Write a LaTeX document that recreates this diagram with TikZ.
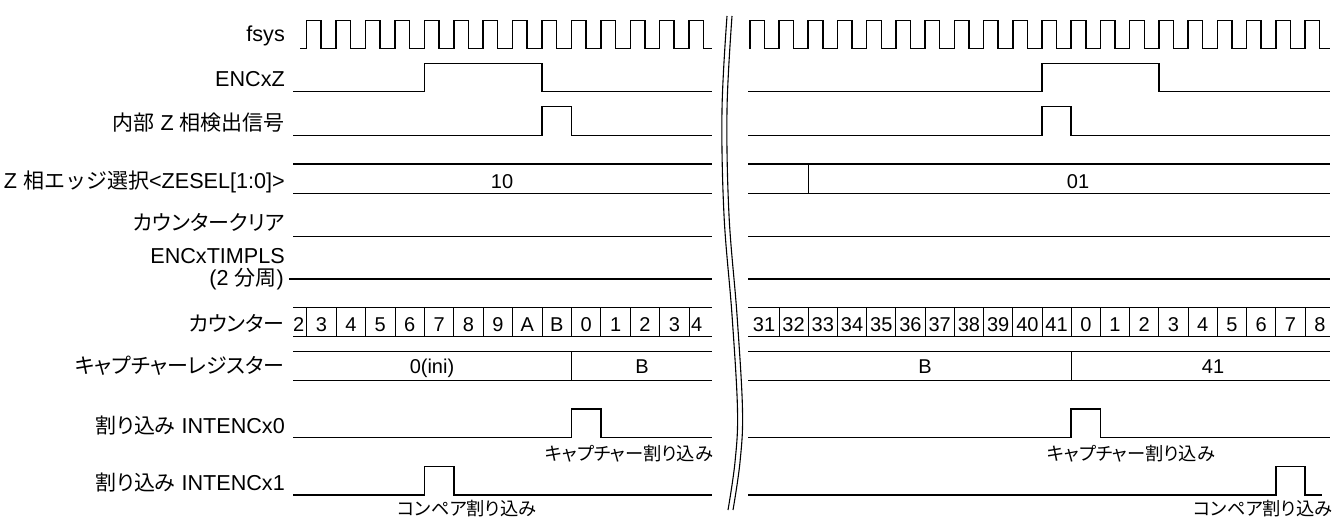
\documentclass[tikz,border=0pt]{standalone}
\usepackage{fontspec}
\setmainfont{Liberation Sans}
\newfontfamily\jp[RawFeature=+palt,Scale=0.972]{Noto Sans CJK JP}
\newfontfamily\jpw[Scale=0.972]{Noto Sans CJK JP}
\begin{document}
\begin{tikzpicture}[x=1pt,y=-1pt,
  sig/.style={line width=1.5pt},
  thinl/.style={line width=0.9pt},
  brk/.style={line width=1.1pt},
  lab/.style={anchor=base east, inner sep=0pt, font=\fontsize{21.6}{25}\selectfont},
  val/.style={anchor=base, inner sep=0pt, font=\fontsize{20}{24}\selectfont},
  ann/.style={anchor=base, inner sep=0pt, font=\fontsize{18.8}{22}\selectfont}]
\useasboundingbox (0,0) rectangle (1333,519);
% ---- fsys clock
\draw[sig] (300,48.7) \foreach \k in {0,...,13}{ -- ({306.7+29.42*\k},48.7) -- ({306.7+29.42*\k},20.5) -- ({321.2+29.42*\k},20.5) -- ({321.2+29.42*\k},48.7)} -- (711.7,48.7);
\draw[sig] (749.78,48.7) \foreach \k in {-1,...,18}{ -- ({779+29.22*\k},48.7) -- ({779+29.22*\k},20.5) -- ({793.6+29.22*\k},20.5) -- ({793.6+29.22*\k},48.7)} -- (1330,48.7);
% ---- ENCxZ
\draw[sig] (293,91.7) -- (424.38,91.7) -- (424.38,63.3) -- (542.06,63.3) -- (542.06,91.7) -- (711.7,91.7);
\draw[sig] (748.3,91.7) -- (1041.98,91.7) -- (1041.98,63.3) -- (1158.86,63.3) -- (1158.86,91.7) -- (1330,91.7);
% ---- internal Z
\draw[sig] (293,135.7) -- (542.06,135.7) -- (542.06,106.7) -- (571.48,106.7) -- (571.48,135.7) -- (711.7,135.7);
\draw[sig] (748.3,135.7) -- (1041.98,135.7) -- (1041.98,106.7) -- (1071.2,106.7) -- (1071.2,135.7) -- (1330,135.7);
% ---- ZESEL
\draw[sig] (293,164) -- (711.7,164) (293,193.3) -- (711.7,193.3);
\draw[sig] (748.3,164) -- (1330,164) (748.3,193.3) -- (1330,193.3);
\draw[thinl] (808.22,164) -- (808.22,193.3);
% ---- counter clear
\draw[sig] (293,236.7) -- (711.7,236.7) (748.3,236.7) -- (1330,236.7);
% ---- TIMPLS
\draw[sig] (289,279) -- (711.7,279) (748.3,279) -- (1330,279);
% ---- counter
\draw[sig] (293,307.7) -- (711.7,307.7) (293,336.7) -- (711.7,336.7);
\draw[sig] (748.3,307.7) -- (1330,307.7) (748.3,336.7) -- (1330,336.7);
\foreach \k in {0,...,13} \draw[thinl] ({306.7+29.42*\k},307.7) -- ({306.7+29.42*\k},336.7);
\foreach \k in {0,...,18} \draw[thinl] ({779+29.22*\k},307.7) -- ({779+29.22*\k},336.7);
% ---- capture register
\draw[sig] (293,351.7) -- (711.7,351.7) (293,380.7) -- (711.7,380.7);
\draw[sig] (748.3,351.7) -- (1330,351.7) (748.3,380.7) -- (1330,380.7);
\draw[thinl] (571.48,351.7) -- (571.48,380.7) (1071.2,351.7) -- (1071.2,380.7);
% ---- INTENCx0
\draw[sig] (293,437.7) -- (571.48,437.7) -- (571.48,409) -- (600.9,409) -- (600.9,437.7) -- (711.7,437.7);
\draw[sig] (748.3,437.7) -- (1071.2,437.7) -- (1071.2,409) -- (1100.42,409) -- (1100.42,437.7) -- (1330,437.7);
% ---- INTENCx1
\draw[sig] (293,495) -- (424.38,495) -- (424.38,466.7) -- (453.8,466.7) -- (453.8,495) -- (711.7,495);
\draw[sig] (748.3,495) -- (1275.74,495) -- (1275.74,466.7) -- (1304.96,466.7) -- (1304.96,495) -- (1321.7,495);
% ---- break mark
\draw[brk] plot[smooth, tension=0.6] coordinates {(727,16) (722,110) (724,215) (732,315) (737.5,410) (735,462) (728,510)};
\draw[brk] plot[smooth, tension=0.6] coordinates {(732,16) (727,110) (729,215) (737,315) (742.5,410) (740,462) (733,510)};
% ---- labels
\node[lab] (tfsys) at (285,42) {fsys};
\node[lab] (tencz) at (285,86) {ENCxZ};
\node[lab] (tintz) at (285,130) {{\jp 内部} Z {\jp 相検出信号}};
\node[lab] (tzsel) at (285,188) {Z {\jpw 相エッジ選択}<ZESEL[1:0]>};
\node[lab] (tclr) at (285,230) {\jp カウンタークリア};
\node[lab] (ttim) at (285,263.5) {ENCxTIMPLS};
\node[lab] (tdiv) at (284,285.5) {(2 {\jp 分周})};
\node[lab] (tcnt) at (285,331) {\jp カウンター};
\node[lab] (tcap) at (285,373.5) {\jp キャプチャーレジスター};
\node[lab] (tint0) at (285,433) {{\jp 割り込み} INTENCx0};
\node[lab] (tint1) at (285,490) {{\jp 割り込み} INTENCx1};
% ---- values
\node[val] (v10) at (502,188) {10};
\node[val] (v01) at (1078,188) {01};
\node[val] (vini) at (432,373.5) {0(ini)};
\node[val] (vB1) at (642,373.5) {B};
\node[val] (vB2) at (925,373.5) {B};
\node[val] (v41) at (1213,373.5) {41};
\node[val, anchor=base west] (cl0) at (293,331) {2};
\foreach \v [count=\i from 0] in {3,4,5,6,7,8,9,A,B,0,1,2,3}
  \node[val] (cl\i) at ({321.41+29.42*\i},331) {\v};
\node[val, anchor=base west] (cl14) at (691,331) {4};
\node[val] (cr0) at (764,331) {31};
\foreach \v [count=\i from 1] in {32,33,34,35,36,37,38,39,40,41,0,1,2,3,4,5,6,7}
  \node[val] (cr\i) at ({764.39+29.22*\i},331) {\v};
\node[val] (cr19) at (1320,331) {8};
% ---- annotations
\node[ann] (acap1) at (629,460) {\jp キャプチャー割り込み};
\node[ann] (acap2) at (1131,460) {\jp キャプチャー割り込み};
\node[ann] (acmp1) at (467,515) {\jp コンペア割り込み};
\node[ann] (acmp2) at (1263,515) {\jp コンペア割り込み};
\end{tikzpicture}
\end{document}
